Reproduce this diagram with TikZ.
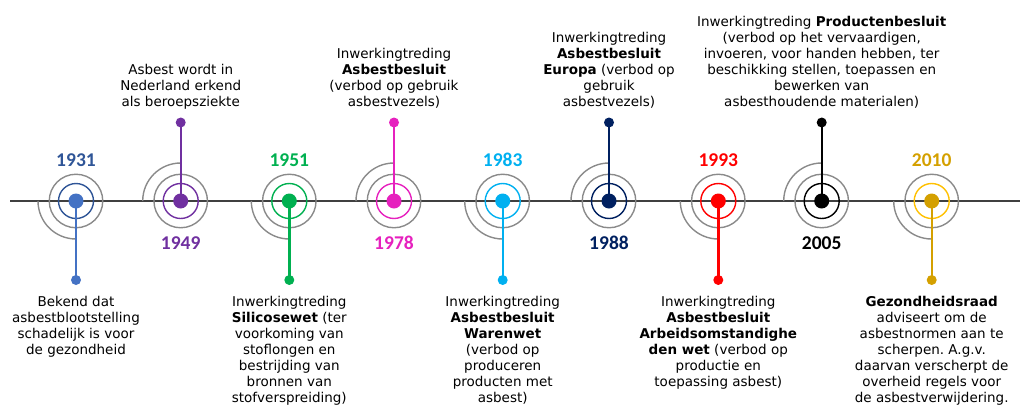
\documentclass[tikz,border=0pt]{standalone}
\usepackage{fontspec}
\setmainfont{DejaVu Sans}
\newfontfamily\yearfont{Carlito}
\frenchspacing
\definecolor{axisgray}{HTML}{404040}
\definecolor{ringgray}{HTML}{8A8A8A}
\definecolor{cAr}{HTML}{2F5597}
\definecolor{cAd}{HTML}{4472C4}
\definecolor{cB}{HTML}{7030A0}
\definecolor{cC}{HTML}{00B050}
\definecolor{cD}{HTML}{E621BE}
\definecolor{cE}{HTML}{00B0F0}
\definecolor{cF}{HTML}{002060}
\definecolor{cG}{HTML}{FF0000}
\definecolor{cH}{HTML}{000000}
\definecolor{cIr}{HTML}{FFC000}
\definecolor{cId}{HTML}{D4A000}
\tikzset{
  axis/.style={draw=axisgray, line width=1.2pt},
  graycircle/.style={circle, draw=ringgray, line width=1.4pt, minimum size=53.5pt, inner sep=0pt},
  grayarc/.style={draw=ringgray, line width=1.4pt},
  colring/.style={circle, line width=1.4pt, minimum size=35pt, inner sep=0pt},
  bigdot/.style={circle, minimum size=15pt, inner sep=0pt},
  enddot/.style={circle, minimum size=10pt, inner sep=0pt},
  stem/.style={line width=2.4pt},
  yearlbl/.style={font=\yearfont\bfseries\fontsize{19.5}{22}\selectfont, inner sep=0pt},
  txt/.style={align=center, inner sep=0pt, font=\fontsize{13.5}{16}\selectfont,
    execute at begin node=\strut, execute at end node=\strut},
  txttop/.style={txt, anchor=south},
  txtbot/.style={txt, anchor=north},
}
\begin{document}
\begin{tikzpicture}[x=1pt,y=1pt]
\useasboundingbox (0,0) rectangle (1027,-407);
% main axis
\coordinate (axL) at (10,-201);
\coordinate (axR) at (1020,-201);
\draw[axis] (axL) -- (axR);

% markers: x / ring colour / dot colour / direction (1 = down, -1 = up) / name
\foreach \x/\rc/\dc/\dir/\n in {76/cAr/cAd/1/a, 180.7/cB/cB/-1/b, 289.3/cC/cC/1/c,
  394/cD/cD/-1/d, 502.7/cE/cE/1/e, 609/cF/cF/-1/f, 718.3/cG/cG/1/g,
  821.7/cH/cH/-1/h, 931.7/cIr/cId/1/i}{
  \node[graycircle] (g\n) at (\x,-201) {};
  \node[colring, draw=\rc] (r\n) at (\x,-201) {};
  \ifnum\dir=1
    \draw[grayarc] (\x-38,-201) arc[start angle=180, end angle=270, radius=38];
    \node[enddot, fill=\dc] (e\n) at (\x,-280) {};
  \else
    \draw[grayarc] (\x,-163) arc[start angle=90, end angle=180, radius=38];
    \node[enddot, fill=\dc] (e\n) at (\x,-122.5) {};
  \fi
  \node[bigdot, fill=\dc] (m\n) at (\x,-201) {};
  \draw[stem, draw=\dc] (m\n.center) -- (e\n.center);
}

% years
\node[yearlbl, text=cAr] (ya) at (76,-160) {1931};
\node[yearlbl, text=cB]  (yb) at (180.7,-243) {1949};
\node[yearlbl, text=cC]  (yc) at (289.3,-160) {1951};
\node[yearlbl, text=cD]  (yd) at (394,-243) {1978};
\node[yearlbl, text=cE]  (ye) at (502.7,-160) {1983};
\node[yearlbl, text=cF]  (yf) at (609,-243) {1988};
\node[yearlbl, text=cG]  (yg) at (718.3,-160) {1993};
\node[yearlbl, text=cH]  (yh) at (821.7,-243) {2005};
\node[yearlbl, text=cId] (yi) at (931.7,-160) {2010};

% texts above
\node[txttop] (tb) at (180.7,-111.3) {Asbest wordt in\\Nederland erkend\\als beroepsziekte};
\node[txttop] (td) at (394,-111.3) {Inwerkingtreding\\\textbf{Asbestbesluit}\\(verbod op gebruik\\asbestvezels)};
\node[txttop] (tf) at (609,-111.3) {Inwerkingtreding\\\textbf{Asbestbesluit}\\\textbf{Europa} (verbod op\\gebruik\\asbestvezels)};
\node[txttop] (th) at (821.7,-111.3) {Inwerkingtreding \textbf{Productenbesluit}\\(verbod op het vervaardigen,\\invoeren, voor handen hebben, ter\\beschikking stellen, toepassen en\\bewerken van\\asbesthoudende materialen)};

% texts below
\node[txtbot] (ta) at (76,-295.8) {Bekend dat\\asbestblootstelling\\schadelijk is voor\\de gezondheid};
\node[txtbot] (tc) at (289.3,-295.8) {Inwerkingtreding\\\textbf{Silicosewet} (ter\\voorkoming van\\stoflongen en\\bestrijding van\\bronnen van\\stofverspreiding)};
\node[txtbot] (te) at (502.7,-295.8) {Inwerkingtreding\\\textbf{Asbestbesluit}\\\textbf{Warenwet}\\(verbod op\\produceren\\producten met\\asbest)};
\node[txtbot] (tg) at (718.3,-295.8) {Inwerkingtreding\\\textbf{Asbestbesluit}\\\textbf{Arbeidsomstandighe}\\\textbf{den wet} (verbod op\\productie en\\toepassing asbest)};
\node[txtbot] (ti) at (931.7,-295.8) {\textbf{Gezondheidsraad}\\adviseert om de\\asbestnormen aan te\\scherpen. A.g.v.\\daarvan verscherpt de\\overheid regels voor\\de asbestverwijdering.};
\end{tikzpicture}
\end{document}
